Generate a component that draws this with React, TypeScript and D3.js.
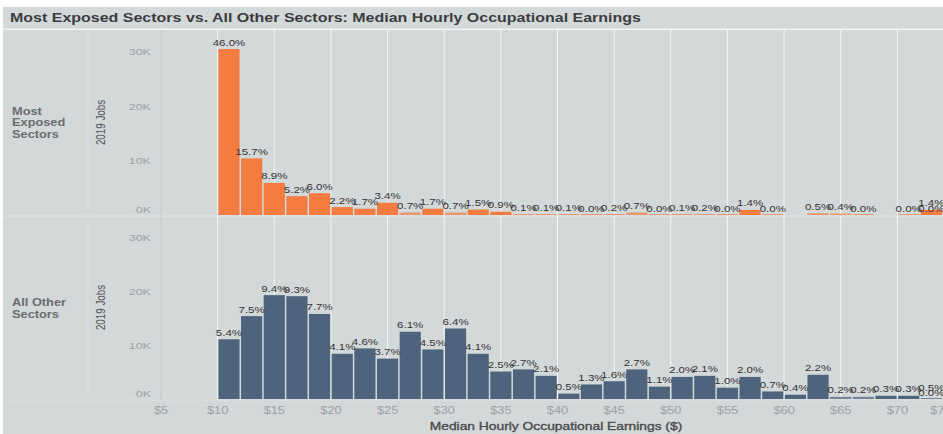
import React from 'react';
import * as d3 from 'd3';

// $2 earnings bins (bin start, in dollars)
const binStart = [10, 12, 14, 16, 18, 20, 22, 24, 26, 28, 30, 32, 34, 36, 38, 40,
    42, 44, 46, 48, 50, 52, 54, 56, 58, 60, 62, 64, 66, 68, 70, 72];

// Most exposed sectors: 2019 jobs (estimated) and share labels
const exposedJobs = [30500, 10400, 5900, 3450, 4000, 1450, 1150, 2250, 450, 1150, 450, 1000, 600, 70, 70, 70,
    0, 130, 450, 0, 70, 130, 0, 930, 0, null, 330, 270, 0, null, 0, 930];
const exposedPct = [46.0, 15.7, 8.9, 5.2, 6.0, 2.2, 1.7, 3.4, 0.7, 1.7, 0.7, 1.5, 0.9, 0.1, 0.1, 0.1,
    0.0, 0.2, 0.7, 0.0, 0.1, 0.2, 0.0, 1.4, 0.0, null, 0.5, 0.4, 0.0, null, 0.0, 1.4];

// All other sectors
const otherJobs = [11100, 15400, 19300, 19100, 15800, 8400, 9400, 7500, 12500, 9200, 13100, 8400, 5100, 5500, 4300, 1000,
    2700, 3300, 5500, 2300, 4100, 4300, 2100, 4100, 1400, 800, 4500, 400, 400, 600, 600, 0];
const otherPct = [5.4, 7.5, 9.4, 9.3, 7.7, 4.1, 4.6, 3.7, 6.1, 4.5, 6.4, 4.1, 2.5, 2.7, 2.1, 0.5,
    1.3, 1.6, 2.7, 1.1, 2.0, 2.1, 1.0, 2.0, 0.7, 0.4, 2.2, 0.2, 0.2, 0.3, 0.3, 0.0];

// overlapping labels in the last visible bin
const exposedExtra = [{ bin: 72, jobs: 0, pct: 0.0 }];
const otherExtra = [{ bin: 72, jobs: 900, pct: 0.5 }];

const xTicks = [5, 10, 15, 20, 25, 30, 35, 40, 45, 50, 55, 60, 65, 70, 75];
const yTicks = [0, 10000, 20000, 30000];

const W = 943;
const H = 434;
const SX = 1.28; // the original rendering is stretched horizontally
const FONT = '"Liberation Sans", Arial, sans-serif';
const BG = '#d3d8d9';
const ORANGE = '#f47c40';
const BLUE = '#4e647d';

interface TxtProps {
    x: number;
    y: number;
    size: number;
    fill: string;
    anchor?: string;
    weight?: string | number;
    stroke?: number;
    children: React.ReactNode;
}

const Txt: React.FC<TxtProps> = ({ x, y, size, fill, anchor = 'start', weight = 'normal', stroke = 0, children }) => (
    <text
        transform={`translate(${x},${y}) scale(${SX},1)`}
        textAnchor={anchor}
        fontSize={size}
        fontWeight={weight}
        fill={fill}
        stroke={stroke ? fill : 'none'}
        strokeWidth={stroke}
        fontFamily={FONT}
    >
        {children}
    </text>
);

const x = d3.scaleLinear().domain([5, 75]).range([161, 954]);
const yTop = d3.scaleLinear().domain([0, 34000]).range([215, 30]);
const yBot = d3.scaleLinear().domain([0, 34000]).range([399, 216]);
const fmtK = (d: number) => `${d / 1000}K`;

interface PanelProps {
    y: d3.ScaleLinear<number, number>;
    jobs: (number | null)[];
    pct: (number | null)[];
    extra: { bin: number; jobs: number; pct: number }[];
    color: string;
    label: string[];
    labelY: number;
}

const Panel: React.FC<PanelProps> = ({ y, jobs, pct, extra, color, label, labelY }) => {
    const [y0, y1] = y.range();
    const mid = (y0 + y1) / 2;
    return (
        <g>
            {/* vertical gridlines */}
            {xTicks.slice(1).map(t => (
                <line key={t} x1={x(t)} x2={x(t)} y1={y1} y2={y0} stroke="#f4f6f6" strokeWidth={1} />
            ))}
            {/* bars */}
            {binStart.map((b, i) => {
                const v = jobs[i];
                if (v == null) return null;
                const top = y(v);
                return (
                    <rect
                        key={b}
                        x={x(b) + 0.75}
                        width={x(b + 2) - x(b) - 1.5}
                        y={Math.min(top, y0 - 1)}
                        height={Math.max(y0 - top, 1)}
                        fill={color}
                        opacity={v < 500 ? 0.7 : 1}
                    />
                );
            })}
            {/* value labels */}
            {binStart.map((b, i) => {
                const v = jobs[i];
                const p = pct[i];
                if (v == null || p == null) return null;
                return (
                    <Txt key={b} x={x(b + 1)} y={y(v) - 3.5} size={9} fill="#333" anchor="middle">
                        {`${p.toFixed(1)}%`}
                    </Txt>
                );
            })}
            {extra.map((e, i) => (
                <Txt key={'e' + i} x={x(e.bin + 1)} y={y(e.jobs) - 3.5} size={9} fill="#333" anchor="middle">
                    {`${e.pct.toFixed(1)}%`}
                </Txt>
            ))}
            {/* y axis */}
            {yTicks.map(t => (
                <Txt key={t} x={151} y={y(t) + 3.5 - (t === 0 ? 6 : 0)} size={9.8} fill="#9ca1a3" anchor="end">
                    {fmtK(t)}
                </Txt>
            ))}
            <text
                transform={`translate(${104.5},${mid}) rotate(-90) scale(1,${SX})`}
                textAnchor="middle"
                fontSize={9.8}
                fill="#505253"
                fontFamily={FONT}
            >
                2019 Jobs
            </text>
            {/* row header */}
            {label.map((l, i) => (
                <Txt key={l} x={12} y={labelY + i * 11.8} size={10} fill="#6a6d6e" weight="bold">
                    {l}
                </Txt>
            ))}
        </g>
    );
};

const App: React.FC = () => {
    return (
        <svg
            width={W}
            height={H}
            style={{ position: 'absolute', left: 0, top: 0, background: '#fff' }}
        >
            <rect x={3} y={7} width={W - 3} height={H - 7} fill={BG} />
            {/* title band */}
            <line x1={3} x2={W} y1={29.2} y2={29.2} stroke="#f2f4f4" strokeWidth={1.6} />
            <Txt x={10} y={21.5} size={12.5} fill="#3b3d3e" weight="bold">
                Most Exposed Sectors vs. All Other Sectors: Median Hourly Occupational Earnings
            </Txt>

            {/* structure lines */}
            <line x1={88} x2={88} y1={30} y2={400} stroke="#dce0e0" />
            <line x1={3} x2={W} y1={216} y2={216} stroke="#e1e5e5" />
            <line x1={3} x2={W} y1={400} y2={400} stroke="#dde1e1" />

            <Panel
                y={yBot}
                jobs={otherJobs}
                pct={otherPct}
                extra={otherExtra}
                color={BLUE}
                label={['All Other', 'Sectors']}
                labelY={306}
            />
            <Panel
                y={yTop}
                jobs={exposedJobs}
                pct={exposedPct}
                extra={exposedExtra}
                color={ORANGE}
                label={['Most', 'Exposed', 'Sectors']}
                labelY={114.5}
            />
            <line x1={161} x2={161} y1={30} y2={400} stroke="#c3c8c9" />

            {/* x axis */}
            {xTicks.map(t => (
                <Txt key={t} x={Math.min(x(t), 941)} y={413.5} size={10} fill="#9ca1a3" anchor="middle">
                    {`$${t}`}
                </Txt>
            ))}
            <Txt x={556} y={430} size={10.8} fill="#4a4c4d" anchor="middle" stroke={0.35}>
                Median Hourly Occupational Earnings ($)
            </Txt>
        </svg>
    );
};

export default App;
